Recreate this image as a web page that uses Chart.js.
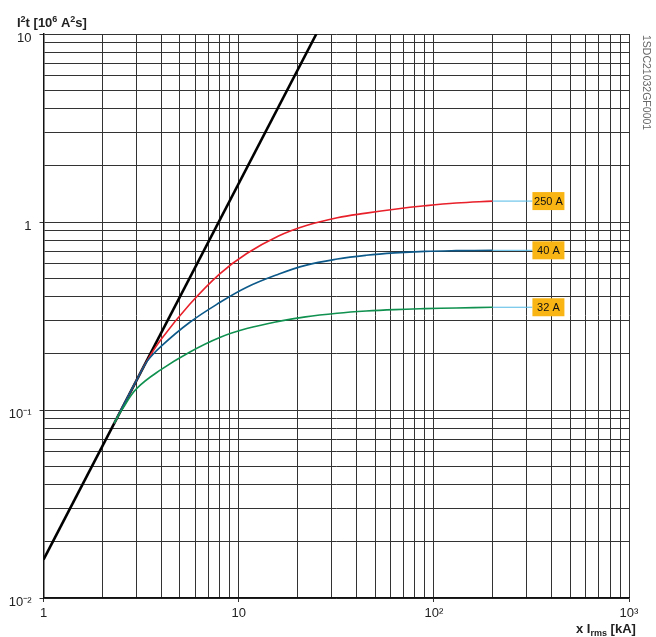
<!DOCTYPE html>
<html>
<head>
<meta charset="utf-8">
<script src="https://cdn.jsdelivr.net/npm/chart.js@4"></script>
<style>
    body { margin: 0; background: #fff; }
</style>
</head>
<body>
<canvas id="myChart" width="656" height="637"></canvas>
<script>
// valores
var xTickValues = [1, 10, 100, 1000];
var xTickLabels = ['1', '10', '10²', '10³'];
var yTickValues = [0.01, 0.1, 1, 10];
var yTickLabels = ['10⁻²', '10⁻¹', '1', '10'];

var lineaX = [1, 25];
var lineaY = [0.016, 10];

var curva250X = [2.3, 3.0, 3.32, 4.0, 5.6, 8, 11, 16, 22, 32, 45, 63, 90, 130, 200];
var curva250Y = [0.085, 0.144, 0.176, 0.237, 0.364, 0.53, 0.68, 0.843, 0.956, 1.054, 1.115, 1.17, 1.22, 1.262, 1.292];
var curva40X = [2.3, 3.0, 3.4, 4.0, 5.6, 8, 11, 16, 22, 32, 45, 63, 90, 130, 200];
var curva40Y = [0.085, 0.144, 0.182, 0.218, 0.292, 0.373, 0.45, 0.528, 0.588, 0.635, 0.665, 0.685, 0.698, 0.704, 0.707];
var curva32X = [2.3, 2.55, 3.0, 4.0, 5.6, 8, 11, 16, 22, 32, 45, 63, 90, 130, 200];
var curva32Y = [0.085, 0.102, 0.13, 0.164, 0.203, 0.243, 0.271, 0.296, 0.313, 0.327, 0.336, 0.342, 0.346, 0.349, 0.352];

var etiquetas = ['250 A', '40 A', '32 A'];
var etiquetaY = [1.292, 0.707, 0.352];
var etiquetaX = [320, 320, 320];

var colorRojo = '#e8202a';
var colorAzul = '#0d5a8a';
var colorVerde = '#10914f';

var puntos = function (xs, ys) {
    var res = [];
    xs.forEach((x, i) => {
        res.push({ x: x, y: ys[i] });
    });
    return res;
}

var ticksLog = function (min, max) {
    var res = [];
    for (var e = Math.log10(min); e < Math.log10(max); e++) {
        for (var s = 1; s < 10; s++) {
            res.push({ value: parseFloat((s * Math.pow(10, e)).toPrecision(3)) });
        }
    }
    res.push({ value: max });
    return res;
}

var esDecada = function (v, lista) {
    return lista.some(d => Math.abs(d - v) / d < 1e-6);
}

// textos extra: titulos, codigo y recuadros
var textosPlugin = {
    id: 'textos',
    afterDraw: function (chart) {
        var ctx = chart.ctx;
        var xs = chart.scales.x;
        var ys = chart.scales.y;
        ctx.save();
        ctx.fillStyle = '#222';
        ctx.textBaseline = 'alphabetic';
        ctx.textAlign = 'left';

        // titulo eje y
        var x0 = 17, y0 = 27;
        var partes = [
            ['I', 'bold 13px "Liberation Sans"', 0],
            ['2', 'bold 9px "Liberation Sans"', -5],
            ['t [10', 'bold 13px "Liberation Sans"', 0],
            ['6', 'bold 9px "Liberation Sans"', -5],
            [' A', 'bold 13px "Liberation Sans"', 0],
            ['2', 'bold 9px "Liberation Sans"', -5],
            ['s]', 'bold 13px "Liberation Sans"', 0]
        ];
        partes.forEach(p => {
            ctx.font = p[1];
            ctx.fillText(p[0], x0, y0 + p[2]);
            x0 += ctx.measureText(p[0]).width;
        });

        // titulo eje x
        x0 = 576; y0 = 633;
        partes = [
            ['x I', 'bold 13px "Liberation Sans"', 0],
            ['rms', 'bold 9px "Liberation Sans"', 3],
            [' [kA]', 'bold 13px "Liberation Sans"', 0]
        ];
        partes.forEach(p => {
            ctx.font = p[1];
            ctx.fillText(p[0], x0, y0 + p[2]);
            x0 += ctx.measureText(p[0]).width;
        });

        // codigo vertical
        ctx.save();
        ctx.translate(643, 35);
        ctx.rotate(Math.PI / 2);
        ctx.font = '10.5px "Liberation Sans"';
        ctx.fillStyle = '#666';
        ctx.fillText('1SDC21032GF0001', 0, 0);
        ctx.restore();

        // recuadros
        etiquetas.forEach((t, i) => {
            var px = xs.getPixelForValue(etiquetaX[i]);
            var py = ys.getPixelForValue(etiquetaY[i]);
            ctx.fillStyle = '#f9b514';
            ctx.fillRect(px, py - 9, 32, 18);
            ctx.fillStyle = '#111';
            ctx.font = '11px "Liberation Sans"';
            ctx.textAlign = 'center';
            ctx.textBaseline = 'middle';
            ctx.fillText(t, px + 16, py + 0.5);
        });
        ctx.restore();
    }
}

var conector = function (i) {
    return {
        data: [{ x: 200, y: etiquetaY[i] }, { x: etiquetaX[i], y: etiquetaY[i] }],
        borderColor: '#52b9e6',
        borderWidth: 1,
        pointRadius: 0
    };
}

var curva = function (xs, ys, color) {
    return {
        data: puntos(xs, ys),
        borderColor: color,
        borderWidth: 1.6,
        pointRadius: 0,
        tension: 0.4
    };
}

var ctx = document.getElementById('myChart');
var myChart = new Chart(ctx, {
    type: 'line',
    data: {
        datasets: [
            conector(0), conector(1), conector(2),
            curva(curva32X, curva32Y, colorVerde),
            curva(curva40X, curva40Y, colorAzul),
            curva(curva250X, curva250Y, colorRojo),
            {
                data: puntos(lineaX, lineaY),
                borderColor: '#000',
                borderWidth: 2.6,
                pointRadius: 0
            }
        ]
    },
    plugins: [textosPlugin],
    options: {
        responsive: false,
        animation: false,
        layout: {
            padding: { top: 34, right: 27, left: 0, bottom: 0 }
        },
        plugins: {
            legend: { display: false },
            tooltip: { enabled: false }
        },
        scales: {
            x: {
                type: 'logarithmic',
                min: 1,
                max: 1000,
                afterBuildTicks: function (scale) { scale.ticks = ticksLog(1, 1000); },
                afterFit: function (scale) { scale.height = 39; },
                grid: {
                    color: '#333',
                    lineWidth: 1,
                    tickLength: 4,
                    tickColor: c => esDecada(c.tick.value, xTickValues) ? '#333' : 'rgba(0,0,0,0)'
                },
                border: { color: '#111', width: 1.5 },
                ticks: {
                    autoSkip: false,
                    maxRotation: 0,
                    padding: 4,
                    color: '#222',
                    font: { family: 'Liberation Sans', size: 13 },
                    callback: function (v) {
                        var i = xTickValues.findIndex(d => Math.abs(d - v) / d < 1e-6);
                        return i >= 0 ? xTickLabels[i] : '';
                    }
                }
            },
            y: {
                type: 'logarithmic',
                min: 0.01,
                max: 10,
                afterBuildTicks: function (scale) { scale.ticks = ticksLog(0.01, 10); },
                afterFit: function (scale) { scale.width = 43.5; },
                grid: {
                    color: '#333',
                    lineWidth: 1,
                    tickLength: 4,
                    tickColor: c => esDecada(c.tick.value, yTickValues) ? '#333' : 'rgba(0,0,0,0)'
                },
                border: { color: '#111', width: 1.5 },
                ticks: {
                    autoSkip: false,
                    padding: 8,
                    labelOffset: 4,
                    color: '#222',
                    font: { family: 'Liberation Sans', size: 13 },
                    callback: function (v) {
                        var i = yTickValues.findIndex(d => Math.abs(d - v) / d < 1e-6);
                        return i >= 0 ? yTickLabels[i] : '';
                    }
                }
            }
        }
    }
});
</script>
</body>
</html>
